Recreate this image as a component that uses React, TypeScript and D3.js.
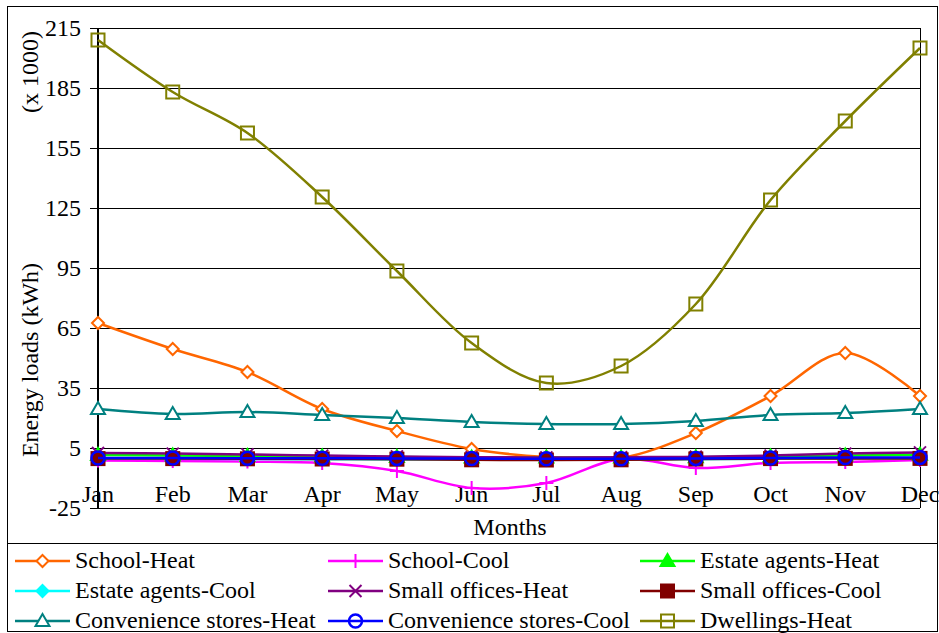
import React from 'react';
import { scaleLinear, scalePoint, line, curveCatmullRom } from 'd3';

const months = ['Jan', 'Feb', 'Mar', 'Apr', 'May', 'Jun', 'Jul', 'Aug', 'Sep', 'Oct', 'Nov', 'Dec'];
const yTicks = [215, 185, 155, 125, 95, 65, 35, 5, -25];

const schoolHeat = [67.5, 54.5, 43, 24.5, 13.5, 4.5, 0.5, 0, 12.5, 31, 52.5, 31];
const schoolCool = [-1.3, -1.5, -1.8, -2.5, -6.5, -15, -12.5, -0.5, -5, -2.5, -2, -1];
const estateHeat = [1.5, 1.3, 1.0, 0.7, 0.5, 0.3, 0.2, 0.3, 0.4, 0.7, 1.2, 1.6];
const estateCool = [-0.4, -0.4, -0.5, -0.6, -0.7, -0.8, -0.9, -0.8, -0.6, -0.4, -0.3, -0.3];
const officeHeat = [2.5, 2.2, 1.8, 1.2, 0.8, 0.4, 0.3, 0.4, 0.6, 1.2, 2.2, 2.8];
const officeCool = [-0.3, -0.3, -0.4, -0.5, -0.6, -0.9, -1.0, -0.9, -0.5, -0.3, -0.2, -0.2];
const storesHeat = [24.5, 22, 23, 21.5, 20, 18, 17, 17, 18.5, 21.5, 22.5, 24.5];
const storesCool = [0, 0, -0.1, -0.1, -0.2, -0.3, -0.4, -0.4, -0.2, 0, 0.2, 0.3];
const dwellingsHeat = [209, 183, 162.5, 130.5, 93.5, 57.5, 37.5, 46, 77, 129, 168.5, 205];

type Marker = 'diamond' | 'plus' | 'triFill' | 'diamondFill' | 'cross' | 'squareFill' | 'tri' | 'circle' | 'square';

const series: { name: string; color: string; marker: Marker; values: number[] }[] = [
  { name: 'School-Heat', color: '#FF6600', marker: 'diamond', values: schoolHeat },
  { name: 'School-Cool', color: '#FF00FF', marker: 'plus', values: schoolCool },
  { name: 'Estate agents-Heat', color: '#00FF00', marker: 'triFill', values: estateHeat },
  { name: 'Estate agents-Cool', color: '#00FFFF', marker: 'diamondFill', values: estateCool },
  { name: 'Small offices-Heat', color: '#800080', marker: 'cross', values: officeHeat },
  { name: 'Small offices-Cool', color: '#800000', marker: 'squareFill', values: officeCool },
  { name: 'Convenience stores-Heat', color: '#008080', marker: 'tri', values: storesHeat },
  { name: 'Convenience stores-Cool', color: '#0000FF', marker: 'circle', values: storesCool },
  { name: 'Dwellings-Heat', color: '#808000', marker: 'square', values: dwellingsHeat },
];

const font = 'Liberation Serif';
const fs = 24;

const MarkerShape = ({ type, x, y, color }: { type: Marker; x: number; y: number; color: string }) => {
  const sw = 2;
  switch (type) {
    case 'diamond':
      return <path d={`M${x},${y - 6}L${x + 6},${y}L${x},${y + 6}L${x - 6},${y}Z`} fill="#fff" stroke={color} strokeWidth={sw} />;
    case 'diamondFill':
      return <path d={`M${x},${y - 6}L${x + 6},${y}L${x},${y + 6}L${x - 6},${y}Z`} fill={color} stroke={color} strokeWidth={sw} />;
    case 'plus':
      return <path d={`M${x - 7},${y}H${x + 7}M${x},${y - 7}V${y + 7}`} stroke={color} strokeWidth={sw} />;
    case 'cross':
      return <path d={`M${x - 6},${y - 6}L${x + 6},${y + 6}M${x - 6},${y + 6}L${x + 6},${y - 6}`} stroke={color} strokeWidth={sw} />;
    case 'triFill':
      return <path d={`M${x},${y - 7}L${x + 7},${y + 5}L${x - 7},${y + 5}Z`} fill={color} stroke={color} strokeWidth={sw} />;
    case 'tri':
      return <path d={`M${x},${y - 7}L${x + 7},${y + 5}L${x - 7},${y + 5}Z`} fill="#fff" stroke={color} strokeWidth={sw} />;
    case 'squareFill':
      return <rect x={x - 6.5} y={y - 6.5} width={13} height={13} fill={color} stroke={color} strokeWidth={sw} />;
    case 'square':
      return <rect x={x - 6.5} y={y - 6.5} width={13} height={13} fill="none" stroke={color} strokeWidth={sw} />;
    case 'circle':
      return <circle cx={x} cy={y} r={6.5} fill="none" stroke={color} strokeWidth={2.5} />;
  }
};

const App = () => {
  const width = 939;
  const height = 633;
  const left = 98;
  const right = 920;
  const top = 28;
  const bottom = 508;

  const x = scalePoint<string>().domain(months).range([left, right]);
  const y = scaleLinear().domain([-25, 215]).range([bottom, top]);

  const path = line<number>()
    .x((_, i) => x(months[i]) ?? 0)
    .y((d) => y(d))
    .curve(curveCatmullRom.alpha(0.5));

  const legendCols = [15, 328, 640];
  const legendRows = [561, 591, 621];

  return (
    <svg width={width} height={height} style={{ position: 'absolute', left: 0, top: 0 }}>
      <rect x={0} y={0} width={width} height={height} fill="#fff" />
      <rect x={7.5} y={6.5} width={930} height={625} fill="none" stroke="#000" strokeWidth={1} />

      {/* gridlines + y ticks */}
      {yTicks.map((t) => (
        <g key={t}>
          <line x1={left} x2={right} y1={y(t) + 0.5} y2={y(t) + 0.5} stroke="#000" strokeWidth={1} />
          <line x1={left - 8} x2={left} y1={y(t) + 0.5} y2={y(t) + 0.5} stroke="#000" strokeWidth={1} />
          <text x={81} y={y(t)} dy="0.33em" textAnchor="end" fontSize={fs} fontFamily={font}>
            {t}
          </text>
        </g>
      ))}
      <line x1={right + 0.5} x2={right + 0.5} y1={top} y2={bottom} stroke="#000" strokeWidth={1} />
      <line x1={left} x2={left} y1={top} y2={bottom + 1} stroke="#000" strokeWidth={2} />

      {/* month labels */}
      {months.map((m) => (
        <text key={m} x={x(m)} y={502} textAnchor="middle" fontSize={fs} fontFamily={font}>
          {m}
        </text>
      ))}

      <text transform="translate(38,72) rotate(-90)" textAnchor="middle" fontSize={fs} fontFamily={font}>
        (x 1000)
      </text>
      <text transform="translate(38,360) rotate(-90)" textAnchor="middle" fontSize={fs} fontFamily={font}>
        Energy loads (kWh)
      </text>
      <text x={510} y={535} textAnchor="middle" fontSize={fs} fontFamily={font}>
        Months
      </text>

      {/* series */}
      {series.map((s) => (
        <g key={s.name}>
          <path d={path(s.values) ?? ''} fill="none" stroke={s.color} strokeWidth={2.5} />
          {s.values.map((v, i) => (
            <MarkerShape key={i} type={s.marker} x={x(months[i]) ?? 0} y={y(v)} color={s.color} />
          ))}
        </g>
      ))}

      {/* legend */}
      <rect x={7.5} y={543.5} width={930} height={88} fill="#fff" stroke="#000" strokeWidth={1} />
      {series.map((s, i) => {
        const lx = legendCols[i % 3];
        const ly = legendRows[Math.floor(i / 3)];
        return (
          <g key={s.name}>
            <line x1={lx} x2={lx + 55} y1={ly} y2={ly} stroke={s.color} strokeWidth={2.5} />
            <MarkerShape type={s.marker} x={lx + 27.5} y={ly} color={s.color} />
            <text x={lx + 60} y={ly} dy="0.3em" fontSize={fs} fontFamily={font}>
              {s.name}
            </text>
          </g>
        );
      })}
    </svg>
  );
};

export default App;
